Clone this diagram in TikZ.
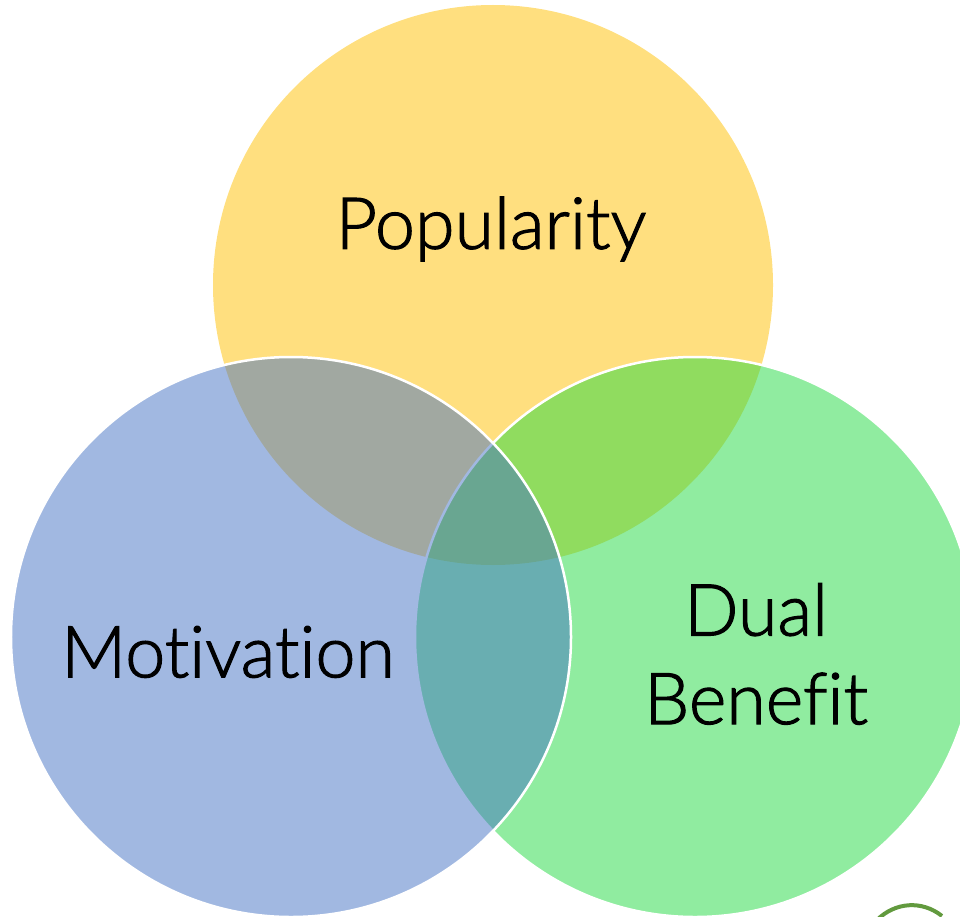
\documentclass[tikz,border=0pt]{standalone}
\usepackage{fontspec}
\setmainfont{Lato}[Ligatures={NoCommon}]
\newfontfamily\labelfont{Lato Light}[FakeBold=1.6, UprightFeatures={FakeBold=1.6}, Ligatures={NoCommon}]
\definecolor{popgold}{HTML}{FFC000}
\definecolor{motblue}{HTML}{4472C4}
\definecolor{dualgreen}{HTML}{21D941}
\definecolor{leafgreen}{HTML}{629A3E}
\begin{document}
\begin{tikzpicture}[x=1bp,y=-1bp,
  setcircle/.style={circle, minimum size=560bp, inner sep=0pt, outer sep=0pt,
    fill opacity=0.5, text opacity=1},
  outlined/.style={draw=white, line width=2.5bp},
  label/.style={font=\labelfont\fontsize{72}{89}\selectfont, text=black, align=center, inner sep=0pt}]
  \useasboundingbox (0,0) rectangle (960,917);
  \clip (0,0) rectangle (960,917);
  % three overlapping sets, drawn back to front
  \node[setcircle, fill=popgold] (pop) at (493,285) {};
  \node[setcircle, fill=dualgreen, outlined] (dual) at (695,637) {};
  \node[setcircle, fill=motblue, outlined] (mot) at (291,637) {};
  % set names
  \node[label] (poptext) at (491,229) {Popularity};
  \node[label] (mottext) at (228,652) {Motivation};
  \node[label] (dualtext) at (756,654) {Dual\\Benefit};
  % corner of the leaf mark
  \coordinate (leafa) at (877,920);
  \coordinate (leafb) at (942,916);
  \draw[leafgreen, line width=4bp] (leafa) .. controls (895,902) and (922,900) .. (leafb);
\end{tikzpicture}
\end{document}
